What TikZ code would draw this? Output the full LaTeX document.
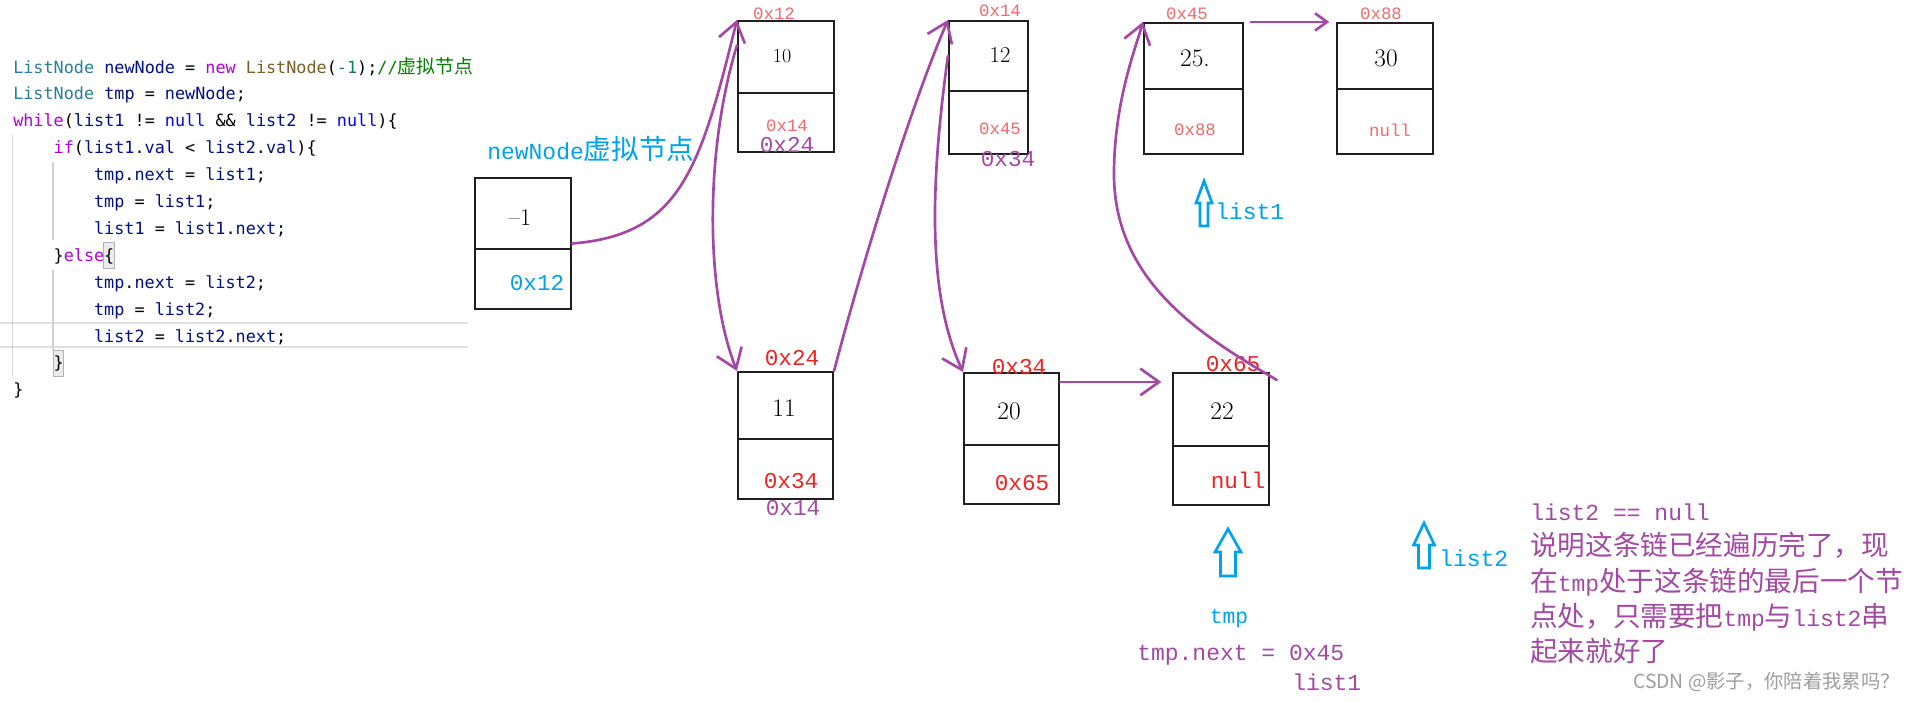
\documentclass[tikz,border=0pt]{standalone}
\usepackage{fontspec}
\usepackage{xcolor}
\usetikzlibrary{arrows.meta}
\usetikzlibrary{fit}
\newfontfamily\codefont{DejaVu Sans Mono}
\newfontfamily\addrfont{Liberation Mono}
\newfontfamily\cjk{Noto Sans CJK SC}
\definecolor{lnk}{HTML}{A349A4}
\definecolor{ptrc}{HTML}{00A2E8}
\definecolor{adr}{HTML}{EE2222}
\definecolor{adrl}{HTML}{F06A6A}
\definecolor{cty}{HTML}{267F99}
\definecolor{cvr}{HTML}{001080}
\definecolor{ckw}{HTML}{AF00DB}
\definecolor{cnl}{HTML}{0000FF}
\definecolor{cfn}{HTML}{795E26}
\definecolor{cnm}{HTML}{098658}
\definecolor{ccm}{HTML}{008000}
\newcommand{\ty}[1]{\textcolor{cty}{#1}}
\newcommand{\vr}[1]{\textcolor{cvr}{#1}}
\newcommand{\kw}[1]{\textcolor{ckw}{#1}}
\newcommand{\nl}[1]{\textcolor{cnl}{#1}}
\newcommand{\fn}[1]{\textcolor{cfn}{#1}}
\newcommand{\zh}[1]{{\cjk\fontsize{20.7}{27}\selectfont #1}}
% one list node: name, x1, y1, x2, y of divider, y2
\newcommand{\listbox}[6]{%
  \node[cell,fit={(#2,#3) (#4,#6)}] (#1) {};
  \draw[cell] (#2,#5) -- (#4,#5);}

\begin{document}
\begin{tikzpicture}[x=0.75pt,y=-0.75pt,
  cell/.style={draw=black!88,line width=1.6pt,inner sep=0pt},
  link/.style={draw=lnk,line width=2pt,line cap=round,-{Straight Barb[length=14pt,width=20pt]}},
  ptr/.style={draw=ptrc,line width=2pt,line join=miter},
  code/.style={anchor=base west,inner sep=0pt,font=\codefont\fontsize{12.6}{15}\selectfont},
  addr/.style={inner sep=0pt,font=\addrfont\fontsize{17}{20}\selectfont},
  addrs/.style={inner sep=0pt,font=\addrfont\fontsize{13}{15}\selectfont},
  val/.style={inner sep=0pt,font=\fontsize{19}{22}\selectfont},
  note/.style={anchor=base west,inner sep=0pt,text=lnk,font=\addrfont\fontsize{17.25}{20}\selectfont}]
\fill[white] (0,0) rectangle (1913,701);
\useasboundingbox (0,0) rectangle (1913,701);

% editor
\draw[black!12,line width=1pt] (0,323) -- (468,323) (0,347) -- (468,347);
\draw[black!18,line width=0.8pt] (12.7,135) -- (12.7,375) (53,162) -- (53,240) (53,270) -- (53,350);
\draw[black!30,fill=black!8,line width=0.6pt] (103.5,242) rectangle (114.5,268) (53,350) rectangle (63.5,376);
\node[code] (c1) at (13,73) {\ty{ListNode} \vr{newNode} = \kw{new} \fn{ListNode}(\textcolor{cnm}{-1});\textcolor{ccm}{//{\cjk\fontsize{14.2}{16}\selectfont 虚拟节点}}};
\node[code] (c2) at (13,99.9) {\ty{ListNode} \vr{tmp} = \vr{newNode};};
\node[code] (c3) at (13,126.8) {\kw{while}(\vr{list1} != \nl{null} \&\& \vr{list2} != \nl{null})\{};
\node[code] (c4) at (53.4,153.7) {\kw{if}(\vr{list1}.\vr{val} < \vr{list2}.\vr{val})\{};
\node[code] (c5) at (93.8,180.6) {\vr{tmp}.\vr{next} = \vr{list1};};
\node[code] (c6) at (93.8,207.5) {\vr{tmp} = \vr{list1};};
\node[code] (c7) at (93.8,234.4) {\vr{list1} = \vr{list1}.\vr{next};};
\node[code] (c8) at (53.4,261.3) {\}\kw{else}\{};
\node[code] (c9) at (93.8,288.2) {\vr{tmp}.\vr{next} = \vr{list2};};
\node[code] (c10) at (93.8,315.1) {\vr{tmp} = \vr{list2};};
\node[code] (c11) at (93.8,342) {\vr{list2} = \vr{list2}.\vr{next};};
\node[code] (c12) at (53.4,368.9) {\}};
\node[code] (c13) at (13,395.8) {\}};

% list nodes
\listbox{bA}{475}{178}{571}{249}{309}
\listbox{bB}{738}{21}{834}{93}{152}
\listbox{bC}{949}{21}{1028}{91}{154}
\listbox{bD}{1144}{23}{1243}{89}{154}
\listbox{bE}{1337}{23}{1433}{89}{154}
\listbox{bF}{738}{372}{833}{439}{499}
\listbox{bG}{964}{373}{1059}{445}{504}
\listbox{bH}{1173}{373}{1269}{446}{505}

\node[val,font=\fontsize{18}{20}\selectfont] (vA) at (520,218) {\textendash1};
\node[val,font=\fontsize{15}{18}\selectfont] (vB) at (782,56) {10};
\node[val,font=\fontsize{17}{20}\selectfont] (vC) at (1000,55) {12};
\node[val] (vD) at (1195,58) {25.};
\node[val] (vE) at (1386,58) {30};
\node[val] (vF) at (784,408) {11};
\node[val] (vG) at (1009,411) {20};
\node[val] (vH) at (1222,411) {22};

% addresses
\node[addr,text=ptrc] (aA) at (537,283) {0x12};
\node[addrs,text=adrl] (aB) at (774,14) {0x12};
\node[addrs,text=adrl] (nB) at (787,126) {0x14};
\node[addr,text=lnk] (mB) at (787,145) {0x24};
\node[addrs,text=adrl] (aC) at (1000,11) {0x14};
\node[addrs,text=adrl] (nC) at (1000,129) {0x45};
\node[addr,text=lnk] (mC) at (1008,159) {0x34};
\node[addrs,text=adrl] (aD) at (1187,14) {0x45};
\node[addrs,text=adrl] (nD) at (1195,130) {0x88};
\node[addrs,text=adrl] (aE) at (1381,14) {0x88};
\node[addrs,text=adrl] (nE) at (1390,130) {null};
\node[addr,text=adr] (aF) at (792,358) {0x24};
\node[addr,text=adr] (nF) at (791,481) {0x34};
\node[addr,text=lnk] (mF) at (793,508) {0x14};
\node[addr,text=adr] (aG) at (1019,367) {0x34};
\node[addr,text=adr] (nG) at (1022,483) {0x65};
\node[addr,text=adr] (aH) at (1233,364) {0x65};
\node[addr,text=adr] (nH) at (1238,480) {null};

% links
\draw[link] (bA.east) .. controls (680,235) and (700,170) .. (bB.north west);
\draw[link] ([yshift=-19pt]bB.north west) .. controls (705,150) and (705,290) .. (bF.north west);
\draw[link] (bF.north east) .. controls (855,290) and (905,120) .. (bC.north west);
\draw[link] ([yshift=-27pt]bC.north west) .. controls (928,200) and (930,300) .. (bG.north west);
\draw[link,shorten >=8pt] ([yshift=-7.5pt]bG.north east) -- ([yshift=-7.5pt]bH.north west);
\draw[link] ([xshift=5pt,yshift=-6pt]bH.north east) .. controls (1200,335) and (1112,280) .. (1114,170) .. controls (1115,100) and (1135,50) .. (bD.north west);
\draw[link,-{Straight Barb[length=9pt,width=13pt]},shorten >=5pt] ([xshift=5pt]bD.north east) -- (bE.north west);

% pointers
\draw[ptr] (1204,181) -- ++(8,22) -- ++(-4,0) -- ++(0,23) -- ++(-8,0) -- ++(0,-23) -- ++(-4,0) -- cycle;
\draw[ptr] (1228,529) -- ++(13,23) -- ++(-5.5,0) -- ++(0,24) -- ++(-15,0) -- ++(0,-24) -- ++(-5.5,0) -- cycle;
\draw[ptr] (1424,523) -- ++(10.5,22) -- ++(-5,0) -- ++(0,23) -- ++(-11,0) -- ++(0,-23) -- ++(-5,0) -- cycle;

% notes
\node[note,text=ptrc] (hd) at (487,159) {newNode\zh{虚拟节点}};
\node[note,text=ptrc] (l1) at (1215,219) {list1};
\node[note,text=ptrc] (l2) at (1439,566) {list2};
\node[note,text=ptrc,anchor=base,font=\addrfont\fontsize{16}{18}\selectfont] (tp) at (1229,623) {tmp};
\node[note] (tn) at (1137,660) {tmp.next = 0x45};
\node[note] (tl) at (1292,690) {list1};
\node[note] (r1) at (1530,520) {list2 == null};
\node[note] (r2) at (1530,555) {\zh{说明这条链已经遍历完了，现}};
\node[note] (r3) at (1530,591) {\zh{在}tmp\zh{处于这条链的最后一个节}};
\node[note] (r4) at (1530,626) {\zh{点处，只需要把}tmp\zh{与}list2\zh{串}};
\node[note] (r5) at (1530,661) {\zh{起来就好了}};
\node[anchor=base west,inner sep=0pt,text=black!38,font=\cjk\fontsize{14.5}{17}\selectfont] (wm) at (1633,688) {CSDN @影子，你陪着我累吗？};
\end{tikzpicture}
\end{document}
